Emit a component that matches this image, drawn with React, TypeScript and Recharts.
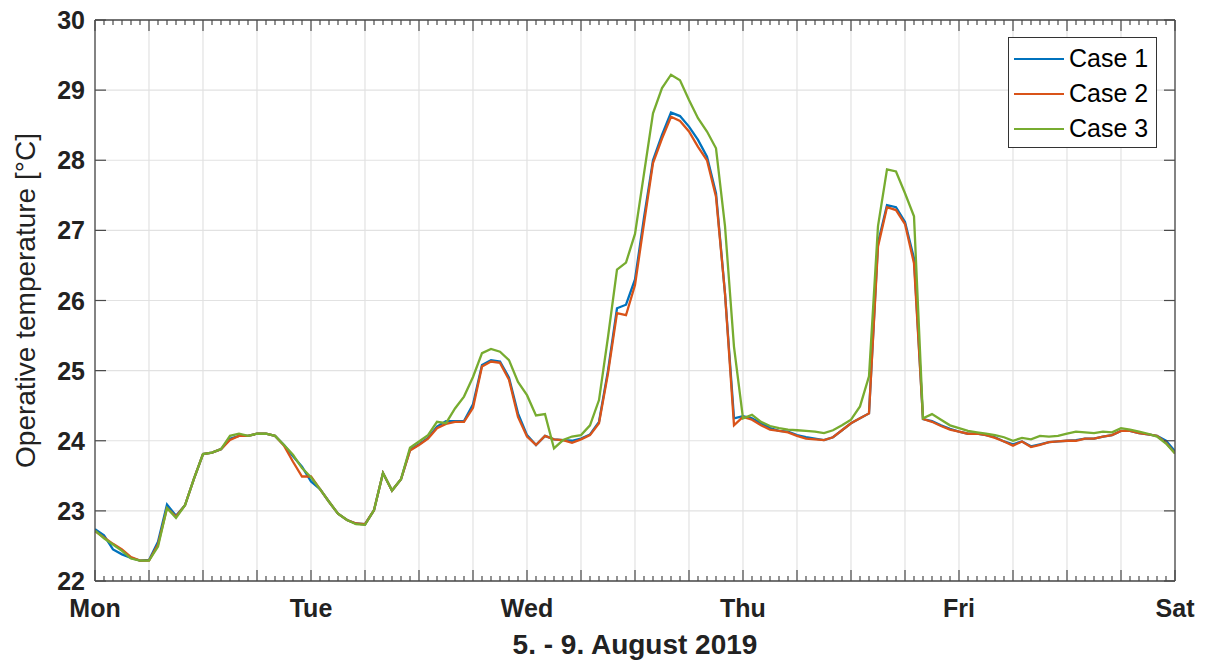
import React from "react"
import { LineChart, Line, XAxis, YAxis, CartesianGrid, Legend } from "recharts"

// hourly samples, Mon 00:00 .. Sat 00:00 (121 points)
const CASE1 = [
  22.74, 22.65, 22.45, 22.38, 22.33, 22.29, 22.3, 22.56, 23.09, 22.93, 23.08, 23.46, 23.81, 23.83, 23.88, 24.03, 24.07, 24.07, 24.1, 24.1,
  24.07, 23.94, 23.78, 23.63, 23.42, 23.31, 23.13, 22.96, 22.87, 22.82, 22.81, 23.01, 23.54, 23.29, 23.45, 23.87, 23.95, 24.04, 24.2, 24.28,
  24.28, 24.28, 24.52, 25.08, 25.15, 25.13, 24.9, 24.39, 24.08, 23.94, 24.07, 24.02, 24.01, 24.0, 24.03, 24.09, 24.27, 25.0, 25.89, 25.94,
  26.3, 27.18, 28.0, 28.36, 28.68, 28.63, 28.48, 28.29, 28.05, 27.53, 26.1, 24.32, 24.35, 24.32, 24.25, 24.18, 24.14, 24.13, 24.08, 24.05,
  24.03, 24.01, 24.05, 24.15, 24.25, 24.32, 24.39, 26.82, 27.36, 27.33, 27.12, 26.6, 24.31, 24.28, 24.22, 24.17, 24.13, 24.1, 24.1, 24.08,
  24.05, 23.99, 23.95, 23.99, 23.92, 23.95, 23.98, 23.99, 24.0, 24.01, 24.03, 24.03, 24.06, 24.08, 24.14, 24.14, 24.11, 24.09, 24.07, 24.0,
  23.85,
]
const CASE2 = [
  22.71, 22.62, 22.53, 22.45, 22.34, 22.29, 22.29, 22.52, 23.04, 22.92, 23.08, 23.46, 23.81, 23.83, 23.88, 24.01, 24.07, 24.07, 24.1, 24.1,
  24.07, 23.93, 23.7, 23.49, 23.49, 23.31, 23.13, 22.96, 22.87, 22.82, 22.81, 23.01, 23.54, 23.29, 23.45, 23.86, 23.94, 24.03, 24.18, 24.24,
  24.27, 24.27, 24.47, 25.06, 25.13, 25.11, 24.87, 24.34, 24.06, 23.94, 24.07, 24.02, 24.01, 23.97, 24.02, 24.08, 24.25, 24.96, 25.82, 25.79,
  26.22, 27.1, 27.96, 28.31, 28.62, 28.56, 28.41, 28.19, 28.0, 27.48, 26.1, 24.22, 24.34, 24.3, 24.22, 24.16, 24.14, 24.12, 24.07, 24.03,
  24.02, 24.01, 24.05, 24.15, 24.25, 24.32, 24.39, 26.77, 27.33, 27.29, 27.09, 26.53, 24.31, 24.27, 24.21, 24.16, 24.13, 24.1, 24.1, 24.08,
  24.04, 23.99, 23.93, 23.99, 23.91, 23.94, 23.98, 23.99, 24.0, 24.0, 24.03, 24.03, 24.06, 24.08, 24.14, 24.14, 24.11, 24.09, 24.07, 23.97,
  23.82,
]
const CASE3 = [
  22.72, 22.61, 22.52, 22.43, 22.32, 22.29, 22.29, 22.49, 23.04, 22.9, 23.08, 23.46, 23.81, 23.83, 23.88, 24.07, 24.1, 24.07, 24.1, 24.1,
  24.07, 23.94, 23.8, 23.61, 23.48, 23.31, 23.13, 22.96, 22.87, 22.81, 22.8, 23.01, 23.54, 23.29, 23.45, 23.9, 23.99, 24.08, 24.27, 24.25,
  24.46, 24.63, 24.91, 25.25, 25.31, 25.27, 25.15, 24.84, 24.65, 24.36, 24.38, 23.89, 24.01, 24.06, 24.08, 24.22, 24.58, 25.48, 26.44, 26.54,
  26.95, 27.81, 28.67, 29.03, 29.22, 29.14, 28.86, 28.6, 28.41, 28.17, 27.06, 25.34, 24.32, 24.37, 24.27, 24.21, 24.18, 24.16, 24.15, 24.14,
  24.13, 24.11, 24.15, 24.22, 24.3, 24.49, 24.92, 27.06, 27.87, 27.84, 27.53, 27.2, 24.32, 24.38, 24.3, 24.22, 24.18, 24.14, 24.12, 24.1,
  24.08, 24.05, 24.0, 24.04, 24.02, 24.07, 24.06, 24.07, 24.1, 24.13, 24.12, 24.11, 24.13, 24.12, 24.18, 24.16, 24.13, 24.1, 24.06, 23.96,
  23.82,
]

const DAY_LABELS = ["Mon", "Tue", "Wed", "Thu", "Fri", "Sat"]
const Y_TICKS = [22, 23, 24, 25, 26, 27, 28, 29, 30]
const HOURS = CASE1.map((_, i) => i)
const GRID_HOURS = HOURS.filter((h) => h % 6 === 0)

const SERIES = [
  { key: "c1", name: "Case 1", color: "#0072BD" },
  { key: "c2", name: "Case 2", color: "#D95319" },
  { key: "c3", name: "Case 3", color: "#77AC30" },
]

const data = HOURS.map((h) => ({ h, c1: CASE1[h], c2: CASE2[h], c3: CASE3[h] }))

const FONT = '"Liberation Sans", Arial, Helvetica, sans-serif'
const AXIS = "#4a4a4a"

function BottomTick({ x, y, payload }: any) {
  const h = payload.value
  const len = h % 6 === 0 ? 11 : 5
  return (
    <g>
      <line x1={x} x2={x} y1={y} y2={y - len} stroke={AXIS} strokeWidth={1.2} />
      {h % 24 === 0 && (
        <text x={x} y={y + 36} textAnchor="middle" fontSize={25} fontWeight="bold" fill="#222" fontFamily={FONT}>
          {DAY_LABELS[h / 24]}
        </text>
      )}
    </g>
  )
}

// top / right axes only carry inward tick marks (boxed axes)
function TopTick({ x, y, payload }: any) {
  const len = payload.value % 6 === 0 ? 11 : 5
  return <line x1={x} x2={x} y1={y} y2={y + len} stroke={AXIS} strokeWidth={1.2} />
}

function LeftTick({ x, y, payload }: any) {
  return (
    <g>
      <line x1={x} x2={x + 11} y1={y} y2={y} stroke={AXIS} strokeWidth={1.2} />
      <text x={x - 10} y={y + 9} textAnchor="end" fontSize={25} fontWeight="bold" fill="#222" fontFamily={FONT}>
        {payload.value}
      </text>
    </g>
  )
}

function RightTick({ x, y }: any) {
  return <line x1={x} x2={x - 11} y1={y} y2={y} stroke={AXIS} strokeWidth={1.2} />
}

function LegendBox({ payload }: any) {
  return (
    <div style={{ border: "1px solid #333", background: "#fff", paddingTop: 3, width: 147, height: 106, fontFamily: FONT }}>
      {(payload || []).map((p: any) => (
        <div key={p.value} style={{ height: 35, display: "flex", alignItems: "center" }}>
          <div style={{ marginLeft: 5, width: 50, height: 0, borderTop: `2.5px solid ${p.color}` }} />
          <span style={{ marginLeft: 5, fontSize: 25, color: "#000", lineHeight: "35px" }}>{p.value}</span>
        </div>
      ))}
    </div>
  )
}

export default function App() {
  return (
    <div style={{ position: "absolute", left: 0, top: 0, background: "#fff" }}>
      <LineChart width={1205} height={661} data={data} margin={{ top: 19, right: 29, bottom: 0, left: 0 }}>
        <CartesianGrid stroke="#e2e2e2" strokeWidth={1.2} verticalValues={GRID_HOURS} horizontalValues={Y_TICKS} />
        <XAxis
          dataKey="h"
          type="number"
          domain={[0, 120]}
          allowDataOverflow
          ticks={HOURS}
          interval={0}
          height={80}
          tickSize={0}
          tickMargin={0}
          tickLine={false}
          axisLine={{ stroke: AXIS, strokeWidth: 1.3 }}
          tick={<BottomTick />}
          label={{
            content: ({ viewBox }: any) => (
              <text x={viewBox.x + viewBox.width / 2} y={viewBox.y + 73} textAnchor="middle" fontSize={28} fontWeight="bold" fill="#222" fontFamily={FONT}>
                5. - 9. August 2019
              </text>
            ),
          }}
        />
        <XAxis
          xAxisId="top"
          orientation="top"
          dataKey="h"
          type="number"
          domain={[0, 120]}
          allowDataOverflow
          ticks={HOURS}
          interval={0}
          height={1}
          tickSize={0}
          tickMargin={0}
          tickLine={false}
          axisLine={{ stroke: AXIS, strokeWidth: 1.3 }}
          tick={<TopTick />}
        />
        <YAxis
          type="number"
          domain={[22, 30]}
          ticks={Y_TICKS}
          interval={0}
          width={95}
          tickSize={0}
          tickMargin={0}
          tickLine={false}
          axisLine={{ stroke: AXIS, strokeWidth: 1.3 }}
          tick={<LeftTick />}
          label={{
            content: ({ viewBox }: any) => {
              const cx = viewBox.x + 35
              const cy = viewBox.y + viewBox.height / 2
              return (
                <text x={cx} y={cy} transform={`rotate(-90 ${cx} ${cy})`} textAnchor="middle" fontSize={28} fill="#222" fontFamily={FONT}>
                  Operative temperature [°C]
                </text>
              )
            },
          }}
        />
        <YAxis
          yAxisId="right"
          orientation="right"
          type="number"
          domain={[22, 30]}
          allowDataOverflow
          ticks={Y_TICKS}
          interval={0}
          width={1}
          tickSize={0}
          tickMargin={0}
          tickLine={false}
          axisLine={{ stroke: AXIS, strokeWidth: 1.3 }}
          tick={<RightTick />}
        />
        <Legend
          layout="vertical"
          align="center"
          verticalAlign="middle"
          content={<LegendBox />}
          wrapperStyle={{ left: 1008, top: 37, width: 149, height: 109 }}
        />
        {SERIES.map((s) => (
          <Line
            key={s.key}
            type="linear"
            dataKey={s.key}
            name={s.name}
            stroke={s.color}
            strokeWidth={2.3}
            dot={false}
            isAnimationActive={false}
          />
        ))}
      </LineChart>
    </div>
  )
}
